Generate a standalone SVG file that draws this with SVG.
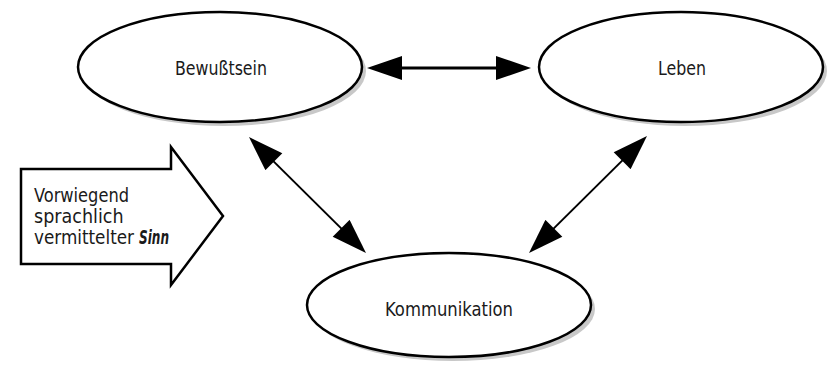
<svg xmlns="http://www.w3.org/2000/svg" width="829" height="366" viewBox="0 0 829 366">
<style>
.shadow{fill:#c8c8c8;stroke:none}
.node{fill:#fff;stroke:#000;stroke-width:2.5}
.lbl{font-family:"DejaVu Sans Condensed","Liberation Sans Narrow",sans-serif;font-size:20px;fill:#1a1a1a;text-anchor:middle}
.box{font-family:"DejaVu Sans Condensed","Liberation Sans Narrow",sans-serif;font-size:19.5px;fill:#1a1a1a}
.conn{stroke:#000;fill:none;marker-start:url(#ah);marker-end:url(#ah)}
</style>
<defs>
<marker id="ah" markerUnits="userSpaceOnUse" markerWidth="36" markerHeight="24" viewBox="0 0 35 24" refX="15" refY="12" orient="auto-start-reverse">
<path d="M0,0 L35,12 L0,24 z" fill="#000"/>
</marker>
</defs>
<g id="bewusstsein">
<ellipse class="shadow" cx="224" cy="71" rx="142" ry="55"/>
<ellipse class="node" cx="220" cy="67" rx="142" ry="55"/>
<text class="lbl" x="221" y="75" textLength="92" lengthAdjust="spacingAndGlyphs">Bewußtsein</text>
</g>
<g id="leben">
<ellipse class="shadow" cx="685" cy="71" rx="142" ry="55"/>
<ellipse class="node" cx="681" cy="67" rx="142" ry="55"/>
<text class="lbl" x="682" y="75" textLength="48" lengthAdjust="spacingAndGlyphs">Leben</text>
</g>
<g id="kommunikation">
<ellipse class="shadow" cx="453" cy="309" rx="142" ry="52"/>
<ellipse class="node" cx="449" cy="305" rx="142" ry="52"/>
<text class="lbl" x="449" y="316" textLength="128" lengthAdjust="spacingAndGlyphs">Kommunikation</text>
</g>
<g id="sinn">
<polygon points="21,169 171,169 171,147 223,216 171,285 171,264 21,264" fill="#fff" stroke="#000" stroke-width="2.5" stroke-linejoin="miter"/>
<text class="box" x="34" y="202" textLength="95" lengthAdjust="spacingAndGlyphs">Vorwiegend</text>
<text class="box" x="34" y="223">sprachlich</text>
<text class="box" x="34" y="244" textLength="100" lengthAdjust="spacingAndGlyphs">vermittelter</text>
<text class="box" x="139" y="244" textLength="30" lengthAdjust="spacingAndGlyphs" font-size="20.5" font-weight="bold" font-style="italic">Sinn</text>
</g>
<g id="connectors">
<line class="conn" x1="387" y1="68" x2="511" y2="68" stroke-width="3"/>
<line class="conn" x1="263.2" y1="151.1" x2="351.8" y2="238.9" stroke-width="2"/>
<line class="conn" x1="632.8" y1="150.1" x2="543.2" y2="238.9" stroke-width="2"/>
</g>
</svg>
